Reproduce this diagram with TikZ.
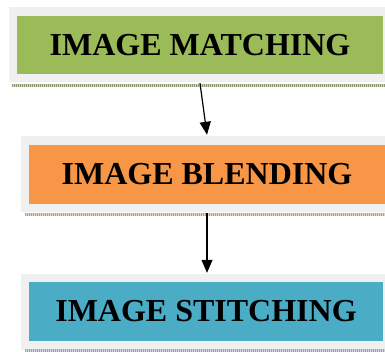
\documentclass[tikz,border=0pt]{standalone}
\usepackage{fontspec}
\setmainfont{Liberation Serif}
\usetikzlibrary{arrows.meta, positioning, calc}
\definecolor{matchgreen}{HTML}{9BBB59}
\definecolor{blendorange}{HTML}{F79646}
\definecolor{stitchblue}{HTML}{4BACC6}
\definecolor{framegray}{HTML}{F0F0F0}
\definecolor{ruleolive}{HTML}{8C9A78}
\definecolor{rulebrown}{HTML}{C89A78}
\definecolor{ruleblue}{HTML}{8FA9B8}

\tikzset{
  stage/.style={inner sep=0pt, minimum height=58pt, font=\fontsize{32}{36}\selectfont\bfseries},
  rule/.style={line width=3pt, dash pattern=on 1pt off 1pt},
  flow/.style={-{Triangle[length=13pt,width=11pt]}, line width=1.2pt}
}

\begin{document}
\begin{tikzpicture}[x=1pt, y=-1pt]
  \useasboundingbox (0,0) rectangle (385,352);
  \clip (0,0) rectangle (385,352);
  % grey frames
  \fill[framegray] (9,7) rectangle (395,82);
  \fill[framegray] (21,136) rectangle (395,212);
  \fill[framegray] (21,274) rectangle (395,350);
  % stages
  \node[stage, fill=matchgreen, minimum width=366pt] (match) at (200,45) {IMAGE MATCHING};
  \node[stage, fill=blendorange, minimum width=362pt, minimum height=59pt] (blend) at (210,174.5) {\hspace*{-6pt}IMAGE BLENDING};
  \node[stage, fill=stitchblue, minimum width=354pt, minimum height=59pt] (stitch) at (206,311.5) {IMAGE STITCHING};
  % dotted rules under the frames
  \draw[line width=3pt, ruleolive!45] (12,86) -- (390,86);
  \draw[rule, ruleolive] (12,86) -- (390,86);
  \draw[line width=3pt, rulebrown!45] (25,215) -- (390,215);
  \draw[rule, rulebrown] (25,215) -- (390,215);
  \draw[line width=3pt, ruleblue!45] (25,350.5) -- (390,350.5);
  \draw[rule, ruleblue] (25,350.5) -- (390,350.5);
  % arrows
  \draw[flow] ([yshift=-9pt]match.south) -- ([xshift=-3pt,yshift=10pt]blend.north);
  \draw[flow] ([xshift=-3pt,yshift=-9pt]blend.south) -- ([xshift=1pt,yshift=9pt]stitch.north);
\end{tikzpicture}
\end{document}
